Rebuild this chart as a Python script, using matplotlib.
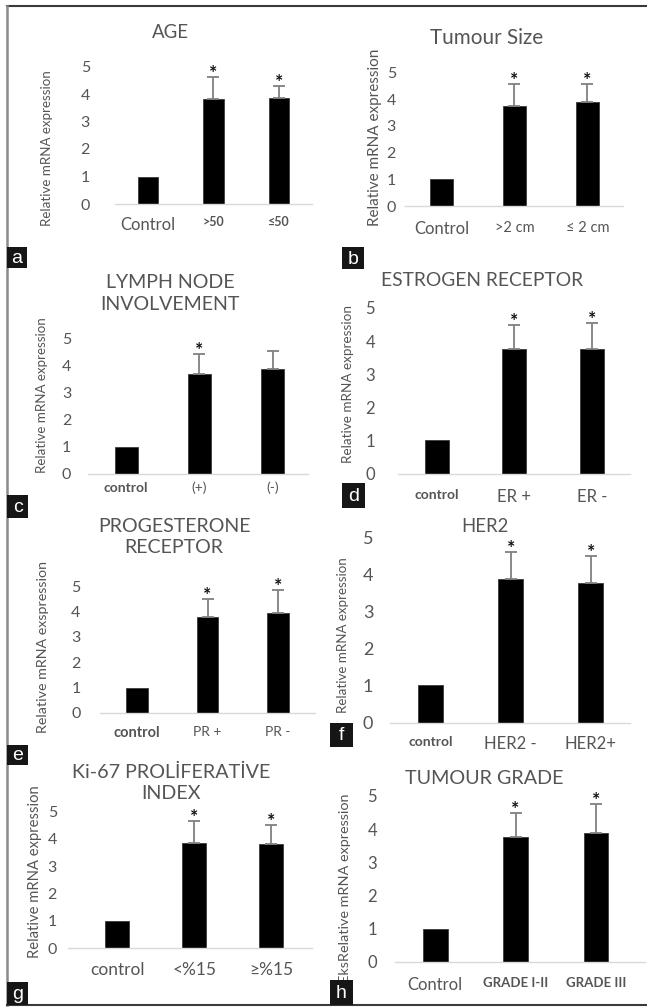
import matplotlib
matplotlib.use("Agg")
import matplotlib.pyplot as plt
from matplotlib.patches import Rectangle
from matplotlib.lines import Line2D

plt.rcParams['font.family'] = ['Lato', 'DejaVu Sans']

# ---------------- data ----------------
age_labels = ['Control', '>50', '≤50']
age_values = [1.0, 3.82, 3.84]
age_err = [0.0, 0.80, 0.45]
age_sig = [False, True, True]

size_labels = ['Control', '>2 cm', '≤ 2 cm']
size_values = [1.0, 3.75, 3.88]
size_err = [0.0, 0.82, 0.69]
size_sig = [False, True, True]

lymph_labels = ['control', '(+)', '(-)']
lymph_values = [1.0, 3.70, 3.90]
lymph_err = [0.0, 0.76, 0.66]
lymph_sig = [False, True, False]

er_labels = ['control', 'ER +', 'ER -']
er_values = [1.0, 3.76, 3.75]
er_err = [0.0, 0.72, 0.80]
er_sig = [False, True, True]

pr_labels = ['control', 'PR +', 'PR -']
pr_values = [1.0, 3.79, 3.95]
pr_err = [0.0, 0.70, 0.89]
pr_sig = [False, True, True]

her2_labels = ['control', 'HER2 -', 'HER2+']
her2_values = [1.0, 3.86, 3.75]
her2_err = [0.0, 0.74, 0.73]
her2_sig = [False, True, True]

ki67_labels = ['control', '<%15', '≥%15']
ki67_values = [1.0, 3.83, 3.80]
ki67_err = [0.0, 0.83, 0.70]
ki67_sig = [False, True, True]

grade_labels = ['Control', 'GRADE I-II', 'GRADE III']
grade_values = [1.0, 3.78, 3.88]
grade_err = [0.0, 0.70, 0.88]
grade_sig = [False, True, True]

yticks = [0, 1, 2, 3, 4, 5]

# ---------------- layout (pixels) ----------------
W, H = 647, 1007
GRAY = '#555555'

panels = [
    dict(data=(age_labels, age_values, age_err, age_sig), ax=(115, 312, 204, 66.5), xlim=(-0.5, 2.5),
         title='AGE', txy=(170, 33), tw=37, ylabel='Relative mRNA expression', yxy=(47, 148), ylen=157,
         ytsize=11.5, ytpad=18, xtsize=[12, 9, 9], xtw=['normal', 'bold', 'bold'], xtpad=9,
         letter='a', box=(7, 247, 27, 268)),
    dict(data=(size_labels, size_values, size_err, size_sig), ax=(405, 623, 206, 72.5), xlim=(-0.5, 2.49),
         title='Tumour Size', txy=(487, 38), tw=113, ylabel='Relative mRNA expression', yxy=(375, 137.5), ylen=178,
         ytsize=11.5, ytpad=6.5, xtsize=[12, 10.5, 10.5], xtw=['normal', 'normal', 'normal'], xtpad=11,
         letter='b', box=(342, 247, 364, 269)),
    dict(data=(lymph_labels, lymph_values, lymph_err, lymph_sig), ax=(88, 308, 473.5, 339), xlim=(-0.52, 2.48),
         title='LYMPH NODE\nINVOLVEMENT', txy=(170, 293.5), tw=140, ylabel='Relative mRNA expression', yxy=(42, 395), ylen=157,
         ytsize=11.5, ytpad=12, xtsize=[10, 10, 10], xtw=['bold', 'normal', 'normal'], xtpad=6,
         letter='c', box=(7, 495, 28, 518)),
    dict(data=(er_labels, er_values, er_err, er_sig), ax=(398, 630, 473.5, 308), xlim=(-0.5, 2.49),
         title='ESTROGEN RECEPTOR', txy=(482, 280), tw=202, ylabel='Relative mRNA expression', yxy=(348, 384), ylen=158,
         ytsize=12, ytpad=16.5, xtsize=[10, 12, 12], xtw=['bold', 'normal', 'normal'], xtpad=11,
         letter='d', box=(342, 483, 365, 508)),
    dict(data=(pr_labels, pr_values, pr_err, pr_sig), ax=(100, 315, 713, 586), xlim=(-0.52, 2.52),
         title='PROGESTERONE\nRECEPTOR', txy=(174, 537), tw=153, ylabel='Relative mRNA exspression', yxy=(43, 647), ylen=173,
         ytsize=11.5, ytpad=14, xtsize=[10.5, 10, 10], xtw=['bold', 'normal', 'normal'], xtpad=9.5,
         letter='e', box=(7, 745, 28, 765)),
    dict(data=(her2_labels, her2_values, her2_err, her2_sig), ax=(390, 630, 722.5, 537), xlim=(-0.51, 2.49),
         title='HER2', txy=(485, 527), tw=47, ylabel='Relative mRNA expression', yxy=(343, 635), ylen=157,
         ytsize=13, ytpad=12, xtsize=[10, 12, 12], xtw=['bold', 'normal', 'normal'], xtpad=10,
         letter='f', box=(330, 723, 353, 747)),
    dict(data=(ki67_labels, ki67_values, ki67_err, ki67_sig), ax=(68, 312, 948, 811.5), xlim=(-0.64, 2.53),
         title='Ki-67 PROLİFERATİVE\nINDEX', txy=(171, 783), tw=198, ylabel='Relative mRNA expression', yxy=(35, 872), ylen=173,
         ytsize=11.5, ytpad=8, xtsize=[12.5, 12.5, 12.5], xtw=['normal', 'normal', 'normal'], xtpad=10,
         letter='g', box=(7, 982, 28, 1005)),
    dict(data=(grade_labels, grade_values, grade_err, grade_sig), ax=(395, 645, 962, 796), xlim=(-0.5, 2.61),
         title='TUMOUR GRADE', txy=(484, 778), tw=158, ylabel='EksRelative mRNA expression', yxy=(345, 888), ylen=190,
         ytsize=12, ytpad=13, xtsize=[12, 9.5, 9.5], xtw=['normal', 'bold', 'bold'], xtpad=11,
         letter='h', box=(330, 980, 353, 1005)),
]

fig = plt.figure(figsize=(W / 100, H / 100), dpi=100)
fig.patch.set_facecolor('white')
renderer = fig.canvas.get_renderer()


def fx(x):
    return x / W


def fy(y):
    return 1 - y / H


def fit(t, target, vertical=False):
    bb = t.get_window_extent(renderer)
    cur = bb.height if vertical else bb.width
    t.set_fontsize(t.get_fontsize() * target / cur)


for p in panels:
    labels, values, err, sig = p['data']
    x0, x1, yb, y5 = p['ax']
    ax = fig.add_axes([fx(x0), fy(yb), (x1 - x0) / W, (yb - y5) / H])
    ax.set_xlim(*p['xlim'])
    ax.set_ylim(0, 5)
    xs = list(range(len(values)))
    ax.bar(xs, values, width=0.31, color='black', edgecolor='#3a3a3a', linewidth=0.6, zorder=2)
    ex = [x for x, e in zip(xs, err) if e > 0]
    ev = [v for v, e in zip(values, err) if e > 0]
    ee = [e for e in err if e > 0]
    ax.errorbar(ex, ev, yerr=[[0] * len(ee), ee], fmt='none', ecolor='#808080',
                elinewidth=1.3, capsize=4.3, capthick=1.3, zorder=3)
    for x, v, e, s in zip(xs, values, err, sig):
        if s:
            ax.annotate('*', xy=(x, v + e), xytext=(0, -1.5), textcoords='offset points',
                        ha='center', va='baseline', fontsize=14, fontweight='bold',
                        color='#111111', annotation_clip=False)
    for side in ['top', 'right', 'left']:
        ax.spines[side].set_visible(False)
    ax.spines['bottom'].set_color('#d9d9d9')
    ax.spines['bottom'].set_linewidth(1.0)
    ax.set_yticks(yticks)
    ax.set_yticklabels([str(t) for t in yticks])
    ax.tick_params(axis='y', length=0, pad=p['ytpad'], labelsize=p['ytsize'], labelcolor=GRAY)
    ax.set_xticks(xs)
    ax.set_xticklabels(labels)
    ax.tick_params(axis='x', length=0, pad=p['xtpad'], labelcolor=GRAY)
    for tl, sz, wt in zip(ax.get_xticklabels(), p['xtsize'], p['xtw']):
        tl.set_fontsize(sz)
        tl.set_fontweight(wt)
    ax.patch.set_alpha(0)

    t = fig.text(fx(p['txy'][0]), fy(p['txy'][1]), p['title'], ha='center', va='center',
                 fontsize=12, color=GRAY, multialignment='center', linespacing=1.3)
    fit(t, p['tw'])
    yl = fig.text(fx(p['yxy'][0]), fy(p['yxy'][1]), p['ylabel'], rotation=90, ha='center',
                  va='center', fontsize=9, color=GRAY)
    fit(yl, p['ylen'], vertical=True)

    bx0, by0, bx1, by1 = p['box']
    fig.add_artist(Rectangle((fx(bx0), fy(by1)), (bx1 - bx0) / W, (by1 - by0) / H,
                             transform=fig.transFigure, facecolor='#161616', edgecolor='none', zorder=5))
    fig.text(fx((bx0 + bx1) / 2), fy((by0 + by1) / 2 + 1), p['letter'], ha='center', va='center',
             fontsize=14, color='white', family=['Liberation Sans', 'DejaVu Sans'], zorder=6)

# frame lines
fig.add_artist(Line2D([fx(7), 1], [fy(6), fy(6)], transform=fig.transFigure, color='#3a3a3a', lw=1.5))
fig.add_artist(Line2D([fx(7), fx(7)], [fy(6), fy(1005)], transform=fig.transFigure, color='#8a8a8a', lw=1.8))
fig.add_artist(Line2D([fx(7), 1], [fy(1005), fy(1005)], transform=fig.transFigure, color='#3a3a3a', lw=1.5))

fig.savefig('out.png', dpi=100, facecolor='white')
